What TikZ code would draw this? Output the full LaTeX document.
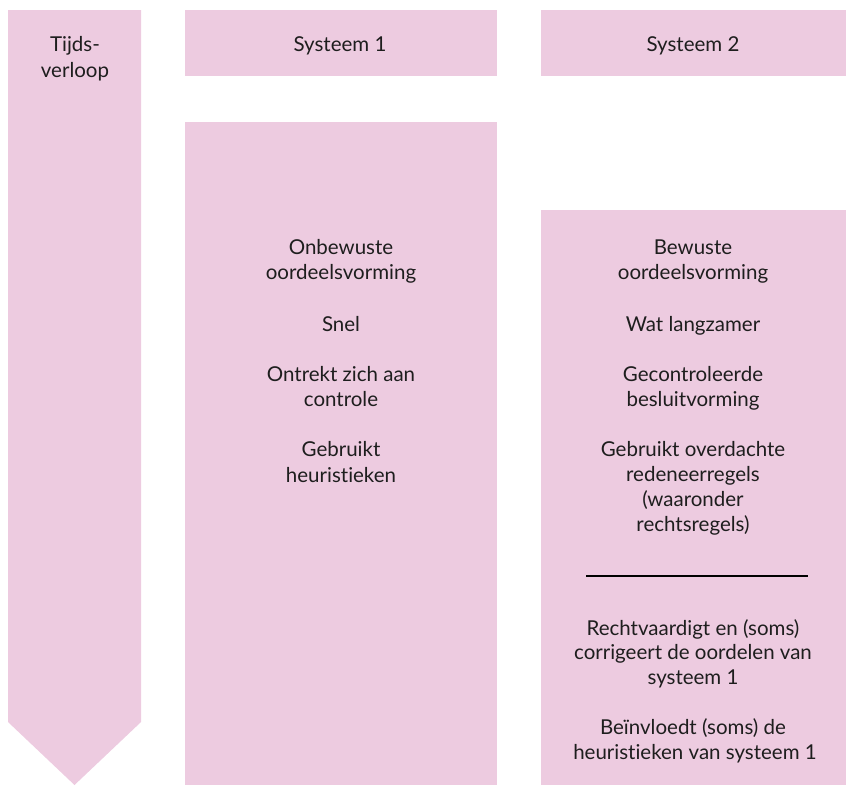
\documentclass[tikz,border=0pt]{standalone}
\usepackage{fontspec}
\setmainfont{Lato}[Ligatures={NoCommon}]
\definecolor{pinkfill}{RGB}{237,203,224}
\definecolor{txt}{RGB}{30,30,30}
\tikzset{
  panel/.style={fill=pinkfill, draw=none},
  lbl/.style={font=\fontsize{20.5}{25}\selectfont, text=txt, inner sep=0pt, text height=14.5pt, text depth=0pt, anchor=center}
}
\begin{document}
\begin{tikzpicture}[x=1pt,y=-1pt]
\useasboundingbox (0,0) rectangle (846,785);
% time arrow
\fill[panel] (8,10) -- (141,10) -- (141,722) -- (74.5,785) -- (8,722) -- cycle;
% headers
\fill[panel] (185,10) rectangle (497,76);
\fill[panel] (541,10) rectangle (846,76);
% bodies
\fill[panel] (185,122) rectangle (497,785);
\fill[panel] (541,210) rectangle (846,785);

\node[lbl] (t1) at (75,44) {Tijds-};
\node[lbl] (t2) at (75,70) {verloop};
\node[lbl] (h1) at (340,44) {Systeem 1};
\node[lbl] (h2) at (693,44) {Systeem 2};

% system 1
\node[lbl] (a1) at (341,247) {Onbewuste};
\node[lbl] (a2) at (341,272) {oordeelsvorming};
\node[lbl] (a3) at (341,324) {Snel};
\node[lbl] (a4) at (341,374) {Ontrekt zich aan};
\node[lbl] (a5) at (341,399) {controle};
\node[lbl] (a6) at (341,449) {Gebruikt};
\node[lbl] (a7) at (341,475) {heuristieken};

% system 2
\node[lbl] (b1) at (693,247) {Bewuste};
\node[lbl] (b2) at (693,272) {oordeelsvorming};
\node[lbl] (b3) at (693,324) {Wat langzamer};
\node[lbl] (b4) at (693,374) {Gecontroleerde};
\node[lbl] (b5) at (693,399) {besluitvorming};
\node[lbl] (b6) at (693,449) {Gebruikt overdachte};
\node[lbl] (b7) at (693,474) {redeneerregels};
\node[lbl] (b8) at (693,499) {(waaronder};
\node[lbl] (b9) at (693,524) {rechtsregels)};
\coordinate (l1) at (586,576);
\coordinate (l2) at (808,576);
\draw[line width=2pt, black] (l1) -- (l2);
\node[lbl] (c1) at (693,628) {Rechtvaardigt en (soms)};
\node[lbl] (c2) at (693,652) {corrigeert de oordelen van};
\node[lbl] (c3) at (693,677) {systeem 1};
\node[lbl] (c4) at (693,727) {Beïnvloedt (soms) de};
\node[lbl] (c5) at (695,752) {heuristieken van systeem 1};
\end{tikzpicture}
\end{document}
